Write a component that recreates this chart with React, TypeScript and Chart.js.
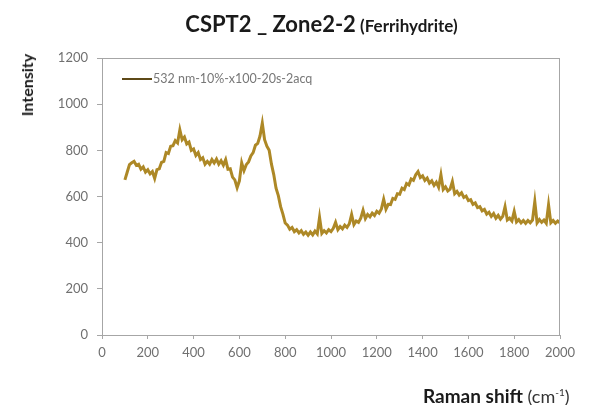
import React, { useEffect, useRef } from "react";
import { Chart, registerables } from "chart.js";

Chart.register(...registerables);

const chartTitle = "CSPT2 _ Zone2-2";
const chartSubtitle = "(Ferrihydrite)";
const seriesLabel = "532 nm-10%-x100-20s-2acq";
const yAxisTitle = "Intensity";
const xAxisTitle = "Raman shift";
const xAxisUnit = "cm";
const xAxisUnitSup = "-1";

const xMin = 0;
const xMax = 2000;
const xStep = 200;
const yMin = 0;
const yMax = 1200;
const yStep = 200;

const ramanShift = [
  100, 110, 120, 130, 140, 150, 160, 170, 180, 190,
  200, 210, 220, 230, 240, 250, 260, 270, 280, 290,
  300, 310, 320, 330, 340, 350, 360, 370, 380, 390,
  400, 410, 420, 430, 440, 450, 460, 470, 480, 490,
  500, 510, 520, 530, 540, 550, 560, 570, 580, 590,
  600, 610, 620, 630, 640, 650, 660, 670, 680, 690,
  700, 710, 720, 730, 740, 750, 760, 770, 780, 790,
  800, 810, 820, 830, 840, 850, 860, 870, 880, 890,
  900, 910, 920, 930, 940, 950, 960, 970, 980, 990,
  1000, 1010, 1020, 1030, 1040, 1050, 1060, 1070, 1080, 1090,
  1100, 1110, 1120, 1130, 1140, 1150, 1160, 1170, 1180, 1190,
  1200, 1210, 1220, 1230, 1240, 1250, 1260, 1270, 1280, 1290,
  1300, 1310, 1320, 1330, 1340, 1350, 1360, 1370, 1380, 1390,
  1400, 1410, 1420, 1430, 1440, 1450, 1460, 1470, 1480, 1490,
  1500, 1510, 1520, 1530, 1540, 1550, 1560, 1570, 1580, 1590,
  1600, 1610, 1620, 1630, 1640, 1650, 1660, 1670, 1680, 1690,
  1700, 1710, 1720, 1730, 1740, 1750, 1760, 1770, 1780, 1790,
  1800, 1810, 1820, 1830, 1840, 1850, 1860, 1870, 1880, 1890,
  1900, 1910, 1920, 1930, 1940, 1950, 1960, 1970, 1980, 1990,
  2000,
];

const intensity = [
  672, 705, 738, 746, 752, 735, 740, 718, 728, 706,
  716, 698, 708, 678, 716, 720, 748, 752, 790, 786,
  818, 820, 842, 832, 889, 846, 858, 828, 836, 800,
  806, 778, 790, 760, 768, 740, 752, 740, 760, 745,
  762, 740, 755, 736, 760, 718, 720, 684, 672, 638,
  668, 746, 712, 738, 750, 776, 790, 822, 830, 862,
  918, 846, 818, 800, 740, 695, 636, 604, 556, 524,
  485, 476, 458, 466, 448, 456, 442, 452, 436, 446,
  432, 446, 434, 450, 438, 510, 440, 452, 442, 456,
  448, 462, 488, 456, 470, 460, 476, 466, 482, 522,
  478, 494, 488, 506, 540, 504, 522, 512, 528, 518,
  536, 528, 546, 588, 545, 566, 565, 592, 588, 612,
  610, 636, 630, 656, 650, 676, 670, 694, 708, 682,
  690, 670, 680, 658, 668, 648, 662, 640, 694, 630,
  642, 624, 632, 665, 612, 622, 606, 616, 596, 602,
  582, 586, 566, 572, 552, 556, 538, 544, 524, 532,
  514, 526, 506, 518, 502, 514, 556, 498, 506, 494,
  535, 490, 500, 486, 496, 484, 496, 486, 498, 578,
  486, 500, 488, 498, 484, 564, 486, 496, 484, 494,
  486,
];

const LINE_COLOR = "#AD8826";
const AXIS_COLOR = "#A6A6A6";
const TICK_COLOR = "#707070";
const FONT = "Lato, 'Open Sans', sans-serif";

const W = 593;
const H = 405;
const AREA_LEFT = 102;
const AREA_TOP = 58;
const AREA_RIGHT = 560;
const AREA_BOTTOM = 335;

export default function App() {
  const canvasRef = useRef<HTMLCanvasElement | null>(null);

  useEffect(() => {
    const canvas = canvasRef.current;
    if (!canvas) return;
    const borderPlugin = {
      id: "areaBorder",
      afterDraw(chart: any) {
        const { ctx, chartArea } = chart;
        ctx.save();
        ctx.strokeStyle = AXIS_COLOR;
        ctx.lineWidth = 1;
        ctx.strokeRect(
          Math.round(chartArea.left) + 0.5,
          Math.round(chartArea.top) + 0.5,
          Math.round(chartArea.right - chartArea.left) - 1,
          Math.round(chartArea.bottom - chartArea.top)
        );
        ctx.restore();
      },
    };
    const chart = new Chart(canvas, {
      type: "line",
      data: {
        datasets: [
          {
            label: seriesLabel,
            data: ramanShift.map((x, i) => ({ x, y: intensity[i] })),
            borderColor: LINE_COLOR,
            borderWidth: 3,
            pointRadius: 0,
            tension: 0,
            fill: false,
          },
        ],
      },
      options: {
        responsive: false,
        animation: false,
        devicePixelRatio: 1,
        layout: {
          padding: { left: 0, top: AREA_TOP, right: W - AREA_RIGHT, bottom: 0 },
        },
        plugins: {
          legend: { display: false },
          title: { display: false },
          tooltip: { enabled: false },
        },
        scales: {
          x: {
            type: "linear",
            min: xMin,
            max: xMax,
            afterFit: (scale: any) => {
              scale.height = H - AREA_BOTTOM;
            },
            ticks: {
              stepSize: xStep,
              color: TICK_COLOR,
              font: { family: FONT, size: 13 },
              padding: 6,
              maxRotation: 0,
              callback: (v: any) => String(v),
            },
            grid: {
              drawOnChartArea: false,
              drawTicks: true,
              tickLength: 4,
              color: AXIS_COLOR,
            },
            border: { display: true, color: AXIS_COLOR },
          },
          y: {
            type: "linear",
            min: yMin,
            max: yMax,
            afterFit: (scale: any) => {
              scale.width = AREA_LEFT;
            },
            ticks: {
              stepSize: yStep,
              color: TICK_COLOR,
              font: { family: FONT, size: 13 },
              padding: 9,
              callback: (v: any) => String(v),
            },
            grid: {
              drawOnChartArea: false,
              drawTicks: true,
              tickLength: 5,
              color: AXIS_COLOR,
            },
            border: { display: true, color: AXIS_COLOR },
          },
        },
      },
      plugins: [borderPlugin],
    });
    return () => chart.destroy();
  }, []);

  return (
    <div
      style={{
        position: "absolute",
        left: 0,
        top: 0,
        width: W,
        height: H,
        background: "#ffffff",
        fontFamily: FONT,
        overflow: "hidden",
      }}
    >
      <canvas ref={canvasRef} width={W} height={H} style={{ display: "block" }} />
      <div
        style={{
          position: "absolute",
          left: 0,
          width: 643,
          top: 10,
          textAlign: "center",
          fontWeight: 700,
          color: "#1a1a1a",
          whiteSpace: "nowrap",
          lineHeight: "28px",
        }}
      >
        <span style={{ fontSize: 22 }}>{chartTitle}</span>
        <span style={{ fontSize: 17 }}> {chartSubtitle}</span>
      </div>
      <div
        style={{
          position: "absolute",
          left: 27,
          top: 85,
          transform: "translate(-50%, -50%) rotate(-90deg)",
          fontWeight: 700,
          fontSize: 16,
          color: "#1a1a1a",
          whiteSpace: "nowrap",
          lineHeight: "18px",
        }}
      >
        {yAxisTitle}
      </div>
      <div
        style={{
          position: "absolute",
          left: 423,
          top: 381,
          color: "#1a1a1a",
          whiteSpace: "nowrap",
          lineHeight: "22px",
        }}
      >
        <span style={{ fontWeight: 700, fontSize: 19 }}>{xAxisTitle}</span>
        <span style={{ fontSize: 18, color: "#333" }}>
          {" ("}
          {xAxisUnit}
          <sup style={{ fontSize: 10 }}>{xAxisUnitSup}</sup>
          {")"}
        </span>
      </div>
      <div
        style={{
          position: "absolute",
          left: 122,
          top: 71,
          display: "flex",
          alignItems: "center",
          whiteSpace: "nowrap",
          lineHeight: "16px",
        }}
      >
        <span
          style={{
            display: "inline-block",
            width: 30,
            height: 2,
            background: "#5E4A18",
          }}
        />
        <span style={{ fontSize: 12.5, color: "#777777", marginLeft: 1 }}>{seriesLabel}</span>
      </div>
    </div>
  );
}
